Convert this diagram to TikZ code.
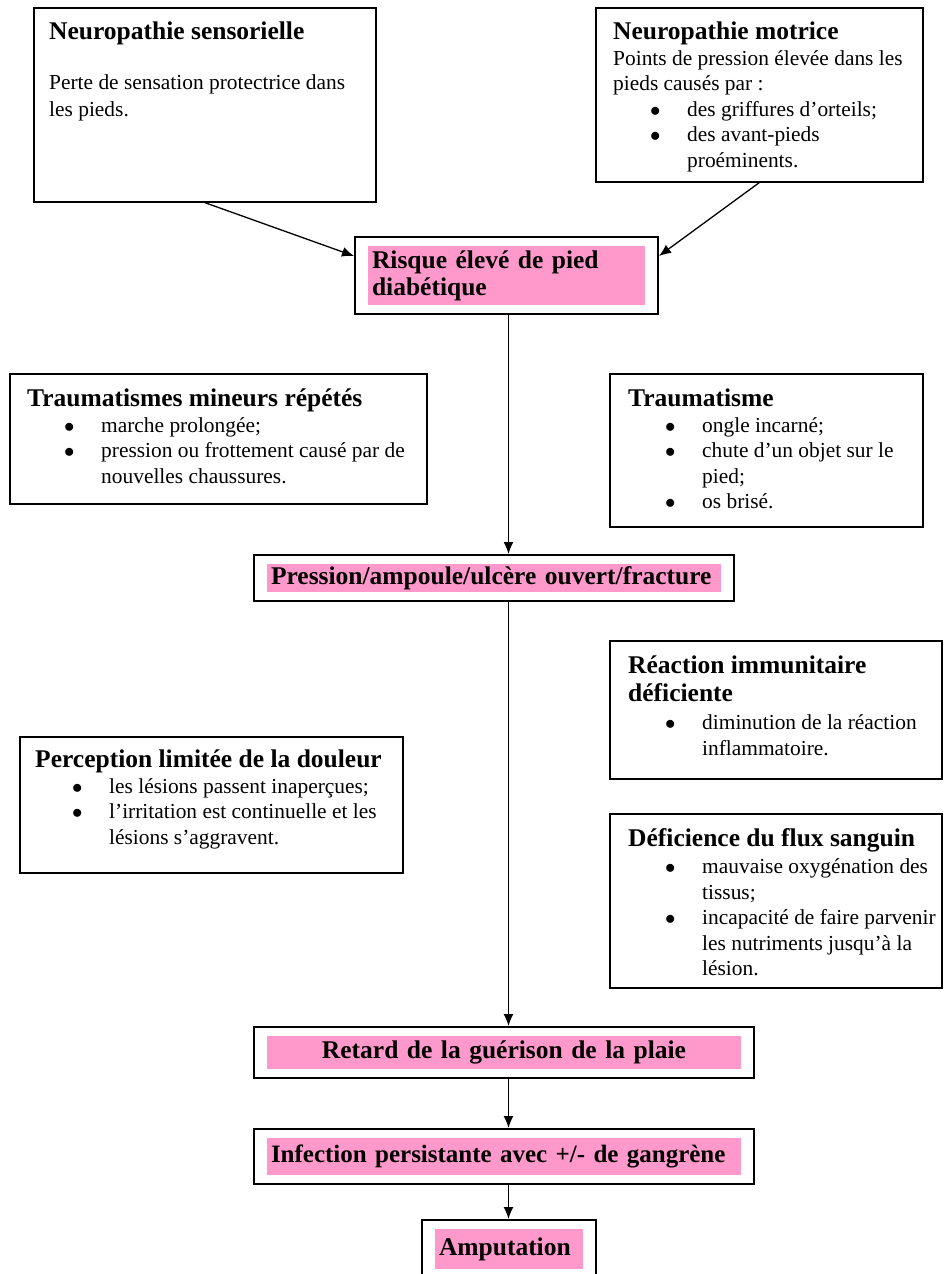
\documentclass[tikz,border=0pt]{standalone}
\usepackage{fontspec}
\setmainfont{Liberation Serif}
\usetikzlibrary{positioning,fit,arrows.meta}
\definecolor{rosepale}{RGB}{255, 153, 204}

\newcommand\titre[1]{{\fontsize{25.5}{26}\selectfont\bfseries #1}}
\newcommand\puce{\hspace*{37pt}\makebox[37pt][l]{$\bullet$}}
\newcommand\suite{\hspace*{74pt}}

\begin{document}
\begin{tikzpicture}[x=1pt, y=-1pt,
    cadre/.style={draw, line width=1.6pt, anchor=north west, inner sep=0pt},
    texte/.style={align=left, inner sep=0pt, font=\fontsize{21.4}{25.5}\selectfont},
    rose/.style={fill=rosepale, inner sep=0pt, font=\fontsize{25.5}{27}\selectfont\bfseries},
    encadre/.style={draw, line width=1.6pt, inner xsep=13pt, inner ysep=9pt},
    fleche/.style={-{Latex[length=12pt, width=10pt]}, line width=1.3pt}]
    \path[use as bounding box, fill=white] (0,0) rectangle (944,1274);

    % boites de causes
    \node[cadre, minimum width=342pt, minimum height=194pt] (sens) at (33,7) {};
    \node[cadre, minimum width=327pt, minimum height=174pt] (motrice) at (595,7) {};
    \node[cadre, minimum width=417pt, minimum height=130pt] (mineurs) at (9,373) {};
    \node[cadre, minimum width=313pt, minimum height=153pt] (trauma) at (609,373) {};
    \node[cadre, minimum width=332pt, minimum height=138pt] (immun) at (609,640) {};
    \node[cadre, minimum width=383pt, minimum height=136pt] (douleur) at (19,736) {};
    \node[cadre, minimum width=332pt, minimum height=174pt] (flux) at (609,813) {};

    \node[texte, below right=15pt and 16pt of sens.north west] (senstxt)
        {\titre{Neuropathie sensorielle}\\[24pt]
         Perte de sensation protectrice dans\\[2pt] les pieds.};
    \node[texte, below right=15pt and 18pt of motrice.north west] (motricetxt)
        {\titre{Neuropathie motrice}\\
         Points de pression élevée dans les\\ pieds causés par :\\
         \puce des griffures d'orteils;\\ \puce des avant-pieds\\ \suite proéminents.};
    \node[texte, below right=16pt and 18pt of mineurs.north west] (mineurstxt)
        {\titre{Traumatismes mineurs répétés}\\
         \puce marche prolongée;\\ \puce pression ou frottement causé par de\\
         \suite nouvelles chaussures.};
    \node[texte, below right=16pt and 19pt of trauma.north west] (traumatxt)
        {\titre{Traumatisme}\\
         \puce ongle incarné;\\ \puce chute d'un objet sur le\\ \suite pied;\\
         \puce os brisé.};
    \node[texte, below right=16pt and 19pt of immun.north west] (immuntxt)
        {\titre{Réaction immunitaire}\\[2pt] \titre{déficiente}\\[3pt]
         \puce diminution de la réaction\\ \suite inflammatoire.};
    \node[texte, below right=14pt and 16pt of douleur.north west] (douleurtxt)
        {\titre{Perception limitée de la douleur}\\
         \puce les lésions passent inaperçues;\\
         \puce l'irritation est continuelle et les\\ \suite lésions s'aggravent.};
    \node[texte, below right=15pt and 19pt of flux.north west] (fluxtxt)
        {\titre{Déficience du flux sanguin}\\[2pt]
         \puce mauvaise oxygénation des\\ \suite tissus;\\
         \puce incapacité de faire parvenir\\ \suite les nutriments jusqu'à la\\
         \suite lésion.};

    % chaine principale
    \node[rose, minimum height=59pt, text width=269pt, inner xsep=4pt, align=left] (risque) at (506.5,275.5)
        {Risque élevé de pied\\ diabétique};
    \node[rose, minimum height=28pt, text width=446pt, inner xsep=4pt, align=left] (pression) at (494,578)
        {Pression/ampoule/ulcère ouvert/fracture};
    \node[rose, minimum height=33pt, text width=466pt, inner xsep=4pt, align=center] (retard) at (504,1052.5)
        {Retard de la guérison de la plaie};
    \node[rose, minimum height=37pt, text width=466pt, inner xsep=4pt, align=left,
          font=\fontsize{25}{27}\selectfont\bfseries] (infection) at (504,1156.5)
        {Infection persistante avec +/- de gangrène};
    \node[rose, minimum height=40pt, text width=140pt, inner xsep=4pt, align=left] (amput) at (509,1249)
        {Amputation};

    \node[encadre, fit=(risque)] (risquecadre) {};
    \node[encadre, fit=(pression)] (pressioncadre) {};
    \node[encadre, fit=(retard)] (retardcadre) {};
    \node[encadre, fit=(infection)] (infectioncadre) {};
    \node[encadre, fit=(amput)] (amputcadre) {};

    \coordinate (axe) at (508.5,0);
    \draw[fleche] (sens.south) -- ([yshift=-20pt]risquecadre.north west);
    \draw[fleche] (motrice.south) -- ([yshift=-20pt]risquecadre.north east);
    \draw[fleche] (risquecadre.south -| axe) -- (pressioncadre.north -| axe);
    \draw[fleche] (pressioncadre.south -| axe) -- (retardcadre.north -| axe);
    \draw[fleche] (retardcadre.south -| axe) -- (infectioncadre.north -| axe);
    \draw[fleche] (infectioncadre.south -| axe) -- (amputcadre.north -| axe);
\end{tikzpicture}
\end{document}
